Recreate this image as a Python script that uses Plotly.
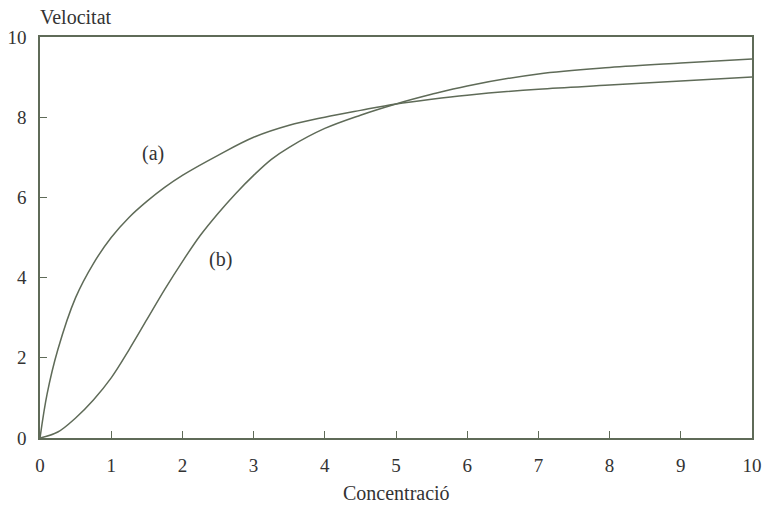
import plotly.graph_objects as go

xa = [0, 0.1, 0.25, 0.5, 0.75, 1.0, 1.25, 1.5, 1.75, 2.0, 2.5, 3.0, 3.5, 4.0, 4.5, 5.0, 5.5, 6.0, 7.0, 8.0, 9.0, 10.0]
ya = [0, 1.1, 2.2, 3.5, 4.35, 5.0, 5.5, 5.9, 6.25, 6.55, 7.05, 7.5, 7.8, 8.0, 8.17, 8.33, 8.45, 8.55, 8.7, 8.8, 8.9, 9.0]

xb = [0, 0.25, 0.5, 0.75, 1.0, 1.25, 1.5, 1.75, 2.0, 2.25, 2.5, 2.75, 3.0, 3.25, 3.5, 4.0, 4.5, 5.0, 5.5, 6.0, 7.0, 8.0, 9.0, 10.0]
yb = [0, 0.15, 0.5, 0.95, 1.5, 2.2, 2.95, 3.7, 4.4, 5.05, 5.6, 6.1, 6.55, 6.95, 7.25, 7.72, 8.05, 8.33, 8.57, 8.78, 9.08, 9.24, 9.35, 9.45]

xticks = list(range(0, 11))
yticks = [0, 2, 4, 6, 8, 10]

col = "#5f6b58"
font = "Liberation Serif, Times New Roman, DejaVu Serif, serif"

fig = go.Figure()
fig.add_trace(go.Scatter(x=xa, y=ya, mode="lines", line=dict(color=col, width=1.5, shape="spline", smoothing=1.0), showlegend=False))
fig.add_trace(go.Scatter(x=xb, y=yb, mode="lines", line=dict(color=col, width=1.5, shape="spline", smoothing=1.0), showlegend=False))

fig.add_annotation(x=1.59, y=7.1, text="(a)", showarrow=False, font=dict(family=font, size=20, color="#333"))
fig.add_annotation(x=2.54, y=4.44, text="(b)", showarrow=False, font=dict(family=font, size=20, color="#333"))
fig.add_annotation(x=0, xref="paper", y=1.0, yref="paper", yshift=20, xshift=-2, xanchor="left", yanchor="middle",
                   text="Velocitat", showarrow=False, font=dict(family=font, size=20, color="#333"))
fig.add_annotation(x=0.5, xref="paper", y=0, yref="paper", yshift=-55, xanchor="center", yanchor="middle",
                   text="Concentració", showarrow=False, font=dict(family=font, size=20, color="#333"))

fig.update_layout(
    width=766, height=512,
    margin=dict(l=40, r=14, t=37, b=74),
    plot_bgcolor="white", paper_bgcolor="white",
    font=dict(family=font, size=19, color="#333"),
)
fig.update_xaxes(range=[0, 10], tickvals=xticks, ticks="inside", ticklen=7, tickcolor=col, tickwidth=1.2,
                 showline=True, linecolor=col, linewidth=1.5, mirror=True, showgrid=False, zeroline=False,
                 ticklabelstandoff=9, automargin=False)
fig.update_yaxes(range=[0, 10], tickvals=yticks, ticks="inside", ticklen=7, tickcolor=col, tickwidth=1.2,
                 showline=True, linecolor=col, linewidth=1.5, mirror=True, showgrid=False, zeroline=False,
                 ticklabelstandoff=8, automargin=False)
fig.write_html("out.html", config={"displayModeBar": False},
               post_script="document.body.style.margin='0';")
